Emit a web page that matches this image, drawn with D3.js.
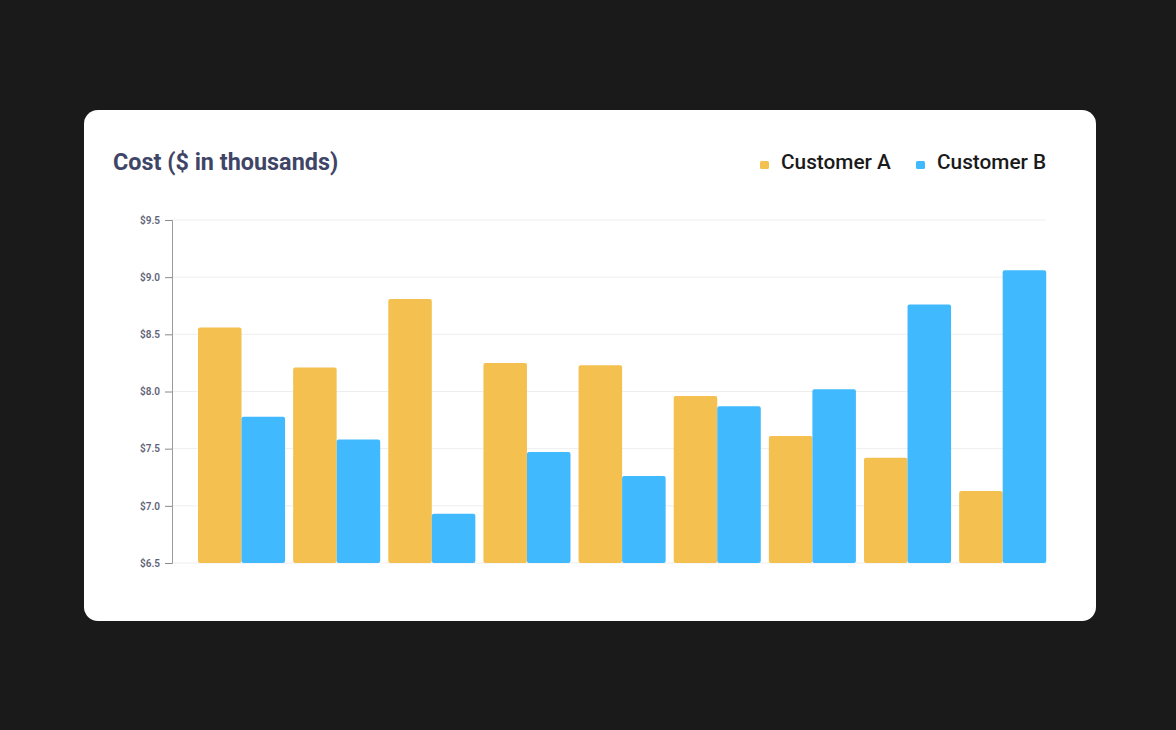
<!DOCTYPE html>
<html>
<head>
<meta charset="utf-8">
<script src="https://cdn.jsdelivr.net/npm/d3@7"></script>
<style>
  html, body { margin: 0; padding: 0; background: #1a1a1a; }
  svg { display: block; }
</style>
</head>
<body>
<svg id="chart" width="1176" height="730"></svg>
<script>
const categories = ["1", "2", "3", "4", "5", "6", "7", "8", "9"];
const seriesNames = ["Customer A", "Customer B"];
const customerA = [8.56, 8.21, 8.81, 8.25, 8.23, 7.96, 7.61, 7.42, 7.13];
const customerB = [7.78, 7.58, 6.93, 7.47, 7.26, 7.87, 8.02, 8.76, 9.06];
const yTicks = [6.5, 7.0, 7.5, 8.0, 8.5, 9.0, 9.5];
const colors = ["#f4c050", "#40b9fe"];

const svg = d3.select("#chart");
svg.append("rect").attr("x", 0).attr("y", 0).attr("width", 1176).attr("height", 730).attr("fill", "#1a1a1a");
svg.append("rect").attr("x", 84).attr("y", 110).attr("width", 1012).attr("height", 511).attr("rx", 14).attr("fill", "#ffffff");

const y = d3.scaleLinear().domain([6.5, 9.5]).range([563, 220]);
const x0 = d3.scaleBand().domain(categories).range([194, 1050.2]).paddingInner(0.085).paddingOuter(0.042);
const x1 = d3.scaleBand().domain(seriesNames).range([0, x0.bandwidth()]);

// grid
svg.append("g").selectAll("line").data(yTicks).join("line")
  .attr("x1", 172).attr("x2", 1046)
  .attr("y1", d => y(d)).attr("y2", d => y(d))
  .attr("stroke", "#eeeeee").attr("stroke-width", 1);

// axis
const axis = d3.axisLeft(y).tickValues(yTicks).tickSize(7).tickPadding(5).tickFormat(d => "$" + d3.format(".1f")(d));
const ag = svg.append("g").attr("transform", "translate(172,0)").call(axis);
ag.select(".domain").attr("stroke", "#9a9a9a");
ag.selectAll(".tick line").attr("stroke", "#8a8a8a");
ag.selectAll(".tick text").attr("fill", "#5f6378").attr("font-family", "Roboto").attr("font-size", 10).attr("font-weight", 600);

// bars
const data = categories.map((c, i) => ({ c, vals: [customerA[i], customerB[i]] }));
const groups = svg.append("g").selectAll("g").data(data).join("g")
  .attr("transform", d => `translate(${x0(d.c)},0)`);
groups.selectAll("rect").data(d => d.vals.map((v, j) => ({ name: seriesNames[j], v, j }))).join("rect")
  .attr("x", d => x1(d.name))
  .attr("y", d => y(d.v))
  .attr("width", x1.bandwidth())
  .attr("height", d => y(6.5) - y(d.v))
  .attr("rx", 2)
  .attr("fill", d => colors[d.j]);

// title
svg.append("text").attr("x", 113).attr("y", 169.5).text("Cost ($ in thousands)")
  .attr("font-family", "Roboto").attr("font-size", 23.4).attr("font-weight", 700).attr("fill", "#3f4566");

// legend
const legendX = [760, 916];
seriesNames.forEach((n, i) => {
  svg.append("rect").attr("x", legendX[i]).attr("y", 161).attr("width", 9).attr("height", 8).attr("rx", 1.5).attr("fill", colors[i]);
  svg.append("text").attr("x", legendX[i] + 21).attr("y", 169).text(n)
    .attr("font-family", "Roboto").attr("font-size", 20.8).attr("font-weight", 500).attr("fill", "#1a1a1a");
});
</script>
</body>
</html>
